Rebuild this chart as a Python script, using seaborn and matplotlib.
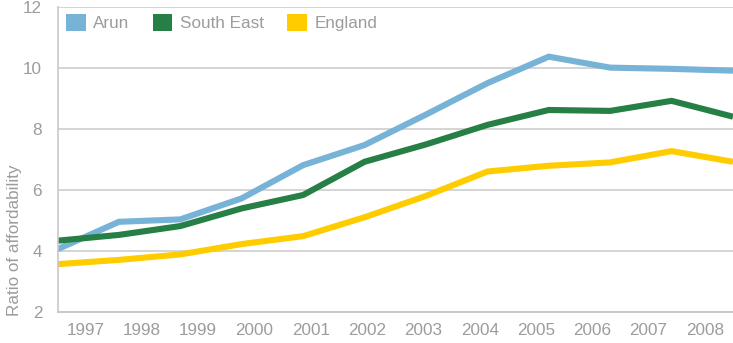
import matplotlib
matplotlib.use("Agg")
import matplotlib.pyplot as plt
from matplotlib.patches import Patch
import seaborn as sns
import pandas as pd
import numpy as np

years = ["1997", "1998", "1999", "2000", "2001", "2002",
         "2003", "2004", "2005", "2006", "2007", "2008"]
arun = [4.05, 4.95, 5.03, 5.72, 6.81, 7.47, 8.47, 9.5, 10.37, 10.01, 9.97, 9.91]
south_east = [4.33, 4.52, 4.81, 5.39, 5.83, 6.92, 7.49, 8.13, 8.62, 8.59, 8.92, 8.4]
england = [3.56, 3.70, 3.88, 4.22, 4.48, 5.10, 5.8, 6.6, 6.79, 6.90, 7.27, 6.92]

series_names = ["Arun", "South East", "England"]
colors = ["#77b3d6", "#267f45", "#ffcc00"]

idx = np.arange(len(years))
df = pd.concat([
    pd.DataFrame({"idx": idx, "ratio": vals, "area": name})
    for name, vals in zip(series_names, [arun, south_east, england])
])

sns.set_theme(style="white")
plt.rcParams["font.family"] = ["Liberation Sans", "DejaVu Sans"]

text_col = "#9c9c9c"
grid_col = "#d4d4d4"

fig = plt.figure(figsize=(7.33, 3.43), dpi=100)
ax = fig.add_axes([57.5 / 733, 1 - 311.7 / 343, 1 - 57.5 / 733, (311.7 - 7) / 343])

sns.lineplot(data=df, x="idx", y="ratio", hue="area", palette=colors,
             hue_order=series_names, linewidth=4.4, ax=ax, legend=False)
for ln in ax.lines:
    ln.set_solid_capstyle("butt")
    ln.set_solid_joinstyle("miter")

ax.set_xlim(0, len(years) - 1)
ax.set_ylim(2, 12)
ax.set_yticks([2, 4, 6, 8, 10, 12])
ax.yaxis.grid(True, color=grid_col, linewidth=1.4)
ax.set_axisbelow(True)

# year labels sit in the middle of each category band
band = (len(years) - 1) / len(years)
ax.set_xticks([(k + 0.5) * band for k in range(len(years))])
ax.set_xticklabels(years)

for s in ["top", "right"]:
    ax.spines[s].set_visible(False)
ax.spines["left"].set_color("#c8c8c8")
ax.spines["left"].set_linewidth(1.2)
ax.spines["bottom"].set_color("#c8c8c8")
ax.spines["bottom"].set_linewidth(1.4)

ax.tick_params(axis="both", length=0, labelsize=12.3, colors=text_col)
ax.tick_params(axis="x", pad=8)
ax.tick_params(axis="y", pad=11)
ax.set_xlabel("")
ax.set_ylabel("")

fig.text(15 / 733, 1 - 240 / 343, "Ratio of affordability", rotation=90,
         ha="center", va="center", fontsize=12.3, color=text_col)

handles = [Patch(facecolor=c, edgecolor="none", label=n)
           for c, n in zip(colors, series_names)]
leg = ax.legend(handles=handles, ncol=3, frameon=False, fontsize=12.3,
                loc="upper left", bbox_to_anchor=(66 / 733, 1 - 14 / 343),
                bbox_transform=fig.transFigure, borderpad=0, borderaxespad=0,
                handlelength=1.15, handleheight=1.15, handletextpad=0.45,
                columnspacing=1.35)
for t in leg.get_texts():
    t.set_color(text_col)

fig.savefig("out.png", dpi=100, facecolor="white")
